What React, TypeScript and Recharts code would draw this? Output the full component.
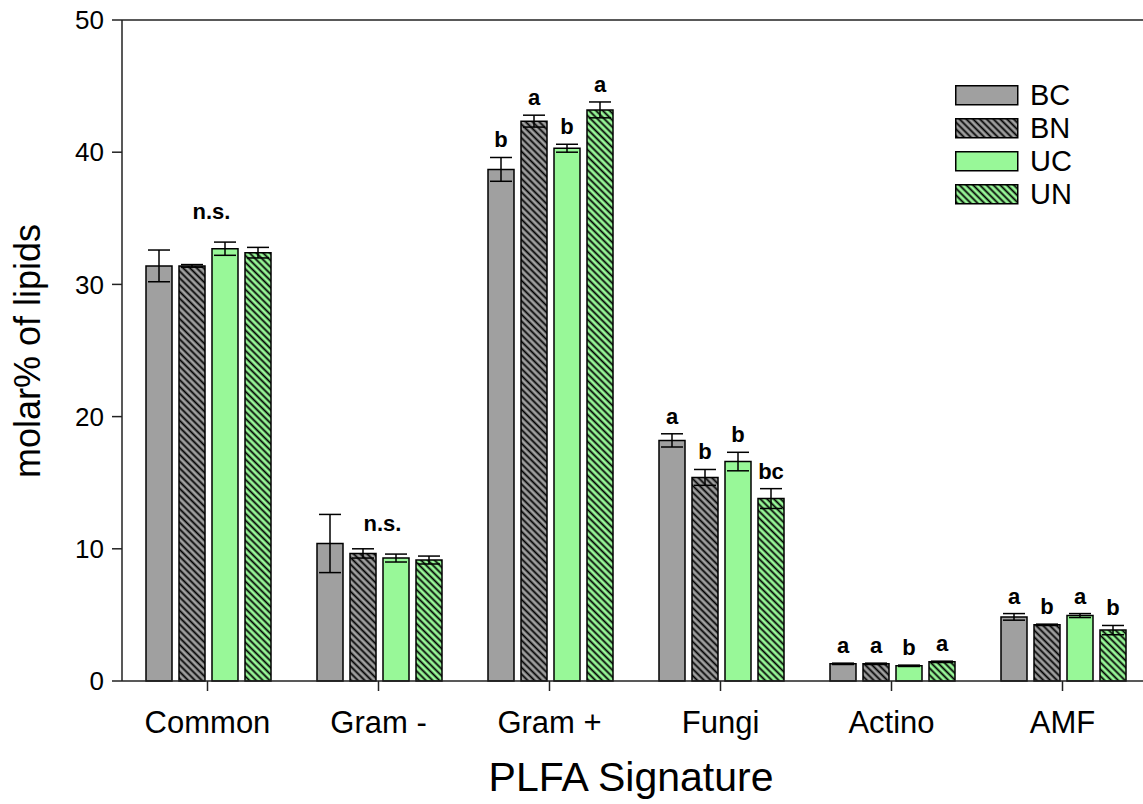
import React from "react";
import {
  BarChart,
  Bar,
  XAxis,
  YAxis,
  ErrorBar,
  LabelList,
  Legend,
  ReferenceLine,
  Label,
} from "recharts";

const categories = ["Common", "Gram -", "Gram +", "Fungi", "Actino", "AMF"];

const bcValues = [31.4, 10.4, 38.7, 18.2, 1.3, 4.85];
const bcErrors = [1.2, 2.2, 0.9, 0.5, 0.05, 0.25];
const bnValues = [31.4, 9.65, 42.35, 15.4, 1.3, 4.25];
const bnErrors = [0.1, 0.35, 0.45, 0.6, 0.05, 0.05];
const ucValues = [32.7, 9.3, 40.3, 16.6, 1.15, 4.95];
const ucErrors = [0.5, 0.3, 0.3, 0.7, 0.05, 0.15];
const unValues = [32.4, 9.15, 43.2, 13.8, 1.45, 3.85];
const unErrors = [0.4, 0.3, 0.6, 0.75, 0.05, 0.35];

const bcLetters = ["", "", "b", "a", "a", "a"];
const bnLetters = ["", "", "a", "b", "a", "b"];
const ucLetters = ["", "", "b", "b", "b", "a"];
const unLetters = ["", "", "a", "bc", "a", "b"];
const nsLabels = ["n.s.", "n.s.", "", "", "", ""];

const yTicks = [0, 10, 20, 30, 40, 50];

const data = categories.map((name, i) => ({
  name,
  bc: bcValues[i],
  bcErr: bcErrors[i],
  bcL: bcLetters[i],
  bn: bnValues[i],
  bnErr: bnErrors[i],
  bnL: bnLetters[i],
  uc: ucValues[i],
  ucErr: ucErrors[i],
  ucL: ucLetters[i],
  un: unValues[i],
  unErr: unErrors[i],
  unL: unLetters[i],
  ns: nsLabels[i],
}));

const FONT = '"Liberation Sans", Arial, Helvetica, sans-serif';
const GRAY = "#a0a0a0";
const GREEN = "#98f898";

const series = [
  { key: "bc", name: "BC", fill: GRAY },
  { key: "bn", name: "BN", fill: "url(#hatchGray)" },
  { key: "uc", name: "UC", fill: GREEN },
  { key: "un", name: "UN", fill: "url(#hatchGreen)" },
];

// bar top minus error, in pixels
function errTop(props: any, key: string) {
  const vb = props.viewBox || {};
  const y = props.y ?? vb.y;
  const h = props.height ?? vb.height;
  const row: any = data[props.index];
  return y - (row[key + "Err"] * h) / row[key];
}

function letterContent(key: string) {
  return (props: any) => {
    if (!props.value) return null;
    const vb = props.viewBox || {};
    const x = props.x ?? vb.x;
    const w = props.width ?? vb.width;
    return (
      <text
        x={x + w / 2}
        y={errTop(props, key) - 10}
        textAnchor="middle"
        fontFamily={FONT}
        fontWeight="bold"
        fontSize={22}
        fill="#000"
      >
        {props.value}
      </text>
    );
  };
}

const nsContent = (props: any) => {
  if (!props.value) return null;
  const vb = props.viewBox || {};
  const x = props.x ?? vb.x;
  return (
    <text
      x={x - 3.5 + 3}
      y={errTop(props, "uc") - 23}
      textAnchor="middle"
      fontFamily={FONT}
      fontWeight="bold"
      fontSize={22}
      fill="#000"
    >
      {props.value}
    </text>
  );
};

const renderLegend = () => (
  <div style={{ display: "flex", flexDirection: "column", gap: 13 }}>
    {series.map((s) => (
      <div key={s.key} style={{ display: "flex", alignItems: "center", height: 20 }}>
        <svg width={64} height={21} style={{ display: "block" }}>
          <rect x={0.75} y={0.75} width={62} height={19} fill={s.fill} stroke="#000" strokeWidth={1.5} />
        </svg>
        <span style={{ marginLeft: 11, fontFamily: FONT, fontSize: 29, lineHeight: "20px", color: "#000" }}>
          {s.name}
        </span>
      </div>
    ))}
  </div>
);

export default function App() {
  return (
    <div
      style={{
        position: "fixed",
        left: 0,
        top: 0,
        width: 1143,
        height: 804,
        overflow: "hidden",
        background: "#fff",
      }}
    >
      <BarChart
        width={1160}
        height={804}
        data={data}
        margin={{ top: 20, right: 12, left: 0, bottom: 0 }}
        barCategoryGap={24}
        barGap={7}
      >
        <defs>
          <pattern id="hatchGray" patternUnits="userSpaceOnUse" width={4.8} height={4.8} patternTransform="rotate(-45)">
            <rect width={4.8} height={4.8} fill={GRAY} />
            <line x1={2.4} y1={0} x2={2.4} y2={4.8} stroke="#000" strokeWidth={1.8} />
          </pattern>
          <pattern id="hatchGreen" patternUnits="userSpaceOnUse" width={4.8} height={4.8} patternTransform="rotate(-45)">
            <rect width={4.8} height={4.8} fill={GREEN} />
            <line x1={2.4} y1={0} x2={2.4} y2={4.8} stroke="#000" strokeWidth={1.8} />
          </pattern>
        </defs>
        <XAxis
          dataKey="name"
          height={123}
          tickSize={10}
          tickMargin={20}
          tick={{ fill: "#000", fontSize: 31, fontFamily: FONT }}
          axisLine={{ stroke: "#222", strokeWidth: 1.5 }}
          tickLine={{ stroke: "#222", strokeWidth: 1.5 }}
        >
          <Label
            content={() => (
              <text x={631} y={791} textAnchor="middle" fontFamily={FONT} fontSize={41} fill="#000">
                PLFA Signature
              </text>
            )}
          />
        </XAxis>
        <YAxis
          width={122}
          domain={[0, 50]}
          ticks={yTicks}
          tickSize={10}
          tickMargin={8}
          tick={{ fill: "#000", fontSize: 26, fontFamily: FONT }}
          axisLine={{ stroke: "#222", strokeWidth: 1.5 }}
          tickLine={{ stroke: "#222", strokeWidth: 1.5 }}
        >
          <Label
            content={() => (
              <text
                transform="translate(40, 351) rotate(-90)"
                textAnchor="middle"
                fontFamily={FONT}
                fontSize={36}
                fill="#000"
              >
                molar% of lipids
              </text>
            )}
          />
        </YAxis>
        <ReferenceLine y={50} stroke="#222" strokeWidth={1.5} />
        <Legend
          layout="vertical"
          align="center"
          verticalAlign="middle"
          content={renderLegend}
          wrapperStyle={{ left: 955, top: 85, width: 150 }}
        />
        {series.map((s) => (
          <Bar
            key={s.key}
            dataKey={s.key}
            name={s.name}
            fill={s.fill}
            stroke="#000"
            strokeWidth={1.5}
            isAnimationActive={false}
          >
            <ErrorBar dataKey={s.key + "Err"} width={11} stroke="#000" strokeWidth={1.5} direction="y" />
            <LabelList dataKey={s.key + "L"} content={letterContent(s.key)} />
            {s.key === "uc" ? <LabelList dataKey="ns" content={nsContent} /> : null}
          </Bar>
        ))}
      </BarChart>
    </div>
  );
}
